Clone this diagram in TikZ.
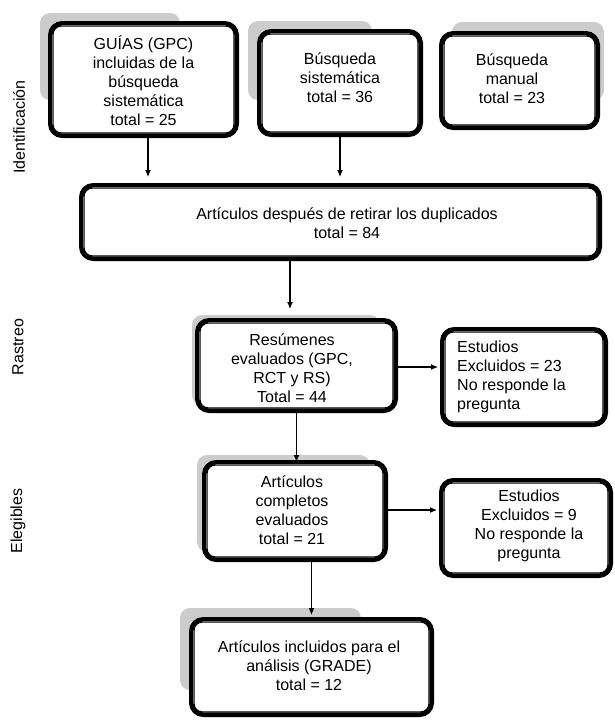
\documentclass[tikz,border=0pt]{standalone}
\usepackage{fontspec}
\setmainfont{Liberation Sans}
\usetikzlibrary{arrows.meta}
\tikzset{
  boxo/.style={draw=black, line width=4.4pt, rounded corners=12pt, fill=white, inner sep=0pt},
  boxi/.style={draw=black, line width=1.2pt, rounded corners=8pt},
  txt/.style={align=center, font=\fontsize{16}{19}\selectfont, inner sep=0pt},
  txtl/.style={align=left, font=\fontsize{16}{19}\selectfont, inner sep=0pt, anchor=west},
  shad/.style={fill=black!20, rounded corners=10pt},
  arr/.style={draw=black, line width=1.1pt, -{Latex[length=7pt,width=6pt]}},
  lab/.style={font=\fontsize{16}{19}\selectfont, rotate=90, inner sep=0pt},
}
\newcommand{\dbox}[5]{%
  \node[boxo, minimum width={#4-#2-4.4}, minimum height={#5-#3-4.4}] (#1) at ({(#2+#4)/2},{(#3+#5)/2}) {};
  \draw[boxi] ([shift={(5.1pt,-5.1pt)}]#1.north west) rectangle ([shift={(-5.1pt,5.1pt)}]#1.south east);
}
\begin{document}
\begin{tikzpicture}[x=1pt,y=-1pt]
\useasboundingbox (0,0) rectangle (614,721);
% shadows
\fill[shad] (40,13) rectangle (180,100);
\fill[shad] (248,21) rectangle (372,100);
\fill[shad] (452,22) rectangle (604,100);
\fill[shad] (192,315) rectangle (380,405);
\fill[shad] (197,455) rectangle (370,552);
\fill[shad] (180,608) rectangle (361,690);
% boxes
\dbox{gpc}{48}{21}{239}{138}
\dbox{sist}{257}{29}{423}{137}
\dbox{man}{439}{31}{600}{130}
\dbox{b84}{79}{183}{602}{261}
\dbox{res}{195}{318}{398}{413}
\dbox{est1}{440}{327}{608}{427}
\dbox{comp}{202}{460}{388}{562}
\dbox{est2}{439}{478}{613}{578}
\dbox{fin}{189}{617}{434}{717}
% texts
\node[txt] (tgpc) at (143.5,80.5) {GUÍAS (GPC)\\incluidas de la\\búsqueda\\sistemática\\total = 25};
\node[txt] (tsist) at (340,77.5) {Búsqueda\\sistemática\\total = 36};
\node[txt] (tman) at (512,79) {Búsqueda\\manual\\total = 23};
\node[txt] (tb84) at (347,223) {Artículos después de retirar los duplicados\\total = 84};
\node[txt] (tres) at (292,368.5) {Resúmenes\\evaluados (GPC,\\RCT y RS)\\Total = 44};
\node[txtl] (test1) at (457,376.5) {Estudios\\Excluidos = 23\\No responde la\\pregunta};
\node[txt] (tcomp) at (292,510) {Artículos\\completos\\evaluados\\total = 21};
\node[txt] (test2) at (529,526) {Estudios\\Excluidos = 9\\No responde la\\pregunta};
\node[txt] (tfin) at (309,666) {Artículos incluidos para el\\análisis (GRADE)\\total = 12};
% side labels
\node[lab] (l1) at (19,127) {Identificación};
\node[lab] (l2) at (18,347) {Rastreo};
\node[lab] (l3) at (18,521) {Elegibles};
% connectors
\draw[arr, shorten >=6pt] ([xshift=4.5pt]gpc.south) -- ([xshift=4.5pt]gpc.south |- b84.north);
\draw[arr, shorten >=6pt] (sist.south) -- (sist.south |- b84.north);
\draw[arr, shorten >=9pt] ([xshift=-6.5pt]res.north |- b84.south) -- ([xshift=-6.5pt]res.north);
\draw[arr, shorten >=2pt] ([yshift=-1.5pt]res.east) -- ([yshift=-1.5pt]res.east -| est1.west);
\draw[arr, shorten >=-2pt] (res.south) -- (res.south |- comp.north);
\draw[arr, shorten >=2pt] ([yshift=1pt]comp.east) -- ([yshift=1pt]comp.east -| est2.west);
\draw[arr, shorten >=2pt] (fin.north |- comp.south) -- (fin.north);
\end{tikzpicture}
\end{document}
